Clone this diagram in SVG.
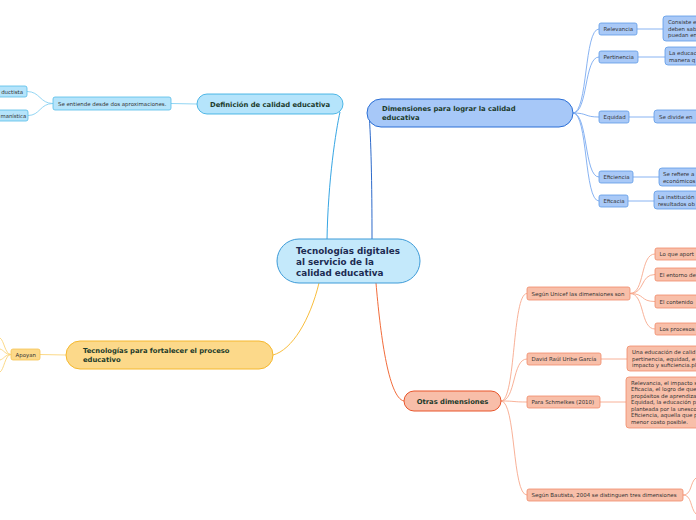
<svg xmlns="http://www.w3.org/2000/svg" width="696" height="520" viewBox="0 0 696 520">
<style>
text{font-family:"DejaVu Sans","Liberation Sans",sans-serif}
.main{font-weight:bold;font-size:6.8px;fill:#1b3b2b}
.sub{font-size:5.45px;fill:#333}
.c{fill:none;stroke-width:0.9}
.bl{fill:#b5e4fb;stroke:#55bde9;stroke-width:0.8}
.db{fill:#a9c9f7;stroke:#5e9be6;stroke-width:0.8}
.or{fill:#f8bfa9;stroke:#f08b6a;stroke-width:0.8}
.ye{fill:#fcd98a;stroke:#f6c453;stroke-width:0.8}
</style>
<rect width="696" height="520" fill="#fff"/>
<g id="connectors">
<path class="c" d="M327,240 C328,180 336,130 340,112" stroke="#1f9be0" stroke-width="1.2"/>
<path class="c" d="M372,240 C372,180 371,140 369,113" stroke="#1559c4" stroke-width="1.2"/>
<path class="c" d="M319,283 C310,320 292,350 273,355" stroke="#f7b526" stroke-width="1.2"/>
<path class="c" d="M376,283 C380,330 388,398 404,401" stroke="#ef5a24" stroke-width="1.2"/>
<g stroke="#86d0f2">
<path class="c" d="M171,103.5 L197,104"/>
<path class="c" d="M53,103.5 C40,103.5 40,91.5 27,91.5"/>
<path class="c" d="M53,103.5 C40,103.5 40,115.5 28,115.5"/>
</g>
<g stroke="#7aaaf0">
<path class="c" d="M573,113 C588,113 584,29 599,29"/>
<path class="c" d="M573,113 C588,113 584,57 599,57"/>
<path class="c" d="M573,113 C588,113 584,117 599,117"/>
<path class="c" d="M573,113 C588,113 584,177 599,177"/>
<path class="c" d="M573,113 C588,113 584,201 599,201"/>
<path class="c" d="M637,29 L663,29"/>
<path class="c" d="M638,57 L665,57"/>
<path class="c" d="M629,117 L654,117"/>
<path class="c" d="M633,177 L659,177"/>
<path class="c" d="M628,201 L654,201"/>
</g>
<g stroke="#f7a88c">
<path class="c" d="M501,401 C516,401 512,293.5 527,293.5"/>
<path class="c" d="M501,401 C516,401 512,359 527,359"/>
<path class="c" d="M501,401 C516,401 512,402 527,402"/>
<path class="c" d="M501,401 C516,401 512,495 527,495"/>
<path class="c" d="M630,293.5 C645,293.5 640,254 655,254"/>
<path class="c" d="M630,293.5 C645,293.5 640,274.5 655,274.5"/>
<path class="c" d="M630,293.5 C645,293.5 640,301.5 655,301.5"/>
<path class="c" d="M630,293.5 C645,293.5 640,329 655,329"/>
<path class="c" d="M601,359 L627,359"/>
<path class="c" d="M600,402 L626,402"/>
<path class="c" d="M683,495 C692,495 690,482 696,478"/>
<path class="c" d="M683,495 C692,495 690,508 696,514"/>
</g>
<g stroke="#fbd57a">
<path class="c" d="M40,354.5 L66,355"/>
<path class="c" d="M11,354.5 C5,354.5 4,340 0,338"/>
<path class="c" d="M11,354.5 C5,354.5 4,350 0,349"/>
<path class="c" d="M11,354.5 C5,354.5 4,359 0,360"/>
<path class="c" d="M11,354.5 C5,354.5 4,370 0,372"/>
</g>
</g>
<g id="central">
<rect x="277" y="239" width="143" height="44" rx="22" fill="#c4e9fb" stroke="#3d9bd8" stroke-width="1"/>
<text x="296" y="254" font-size="8.8" font-weight="bold" fill="#1c2b52">Tecnologías digitales</text>
<text x="296" y="265" font-size="8.8" font-weight="bold" fill="#1c2b52">al servicio de la</text>
<text x="296" y="276" font-size="8.8" font-weight="bold" fill="#1c2b52">calidad educativa</text>
</g>
<g id="definicion">
<rect class="bl" x="197" y="94" width="146" height="20" rx="10" style="stroke:#2aa7e0"/>
<text class="main" x="270" y="106.5" text-anchor="middle">Definición de calidad educativa</text>
</g>
<g id="se-entiende">
<rect class="bl" x="53" y="97" width="118" height="13" rx="2"/>
<text class="sub" x="58" y="105.5">Se entiende desde dos aproximaciones.</text>
</g>
<g id="ductista">
<rect class="bl" x="-20" y="86" width="47" height="11" rx="2"/>
<text class="sub" x="23" y="93.5" text-anchor="end">ductista</text>
</g>
<g id="manistica">
<rect class="bl" x="-20" y="110" width="48" height="11" rx="2"/>
<text class="sub" x="0.5" y="117.5" style="font-size:5.3px">manística</text>
</g>
<g id="dimensiones">
<rect x="367" y="99" width="206" height="28" rx="14" fill="#a7c8f8" stroke="#2b6fd6" stroke-width="1"/>
<text class="main" x="382" y="111">Dimensiones para lograr la calidad</text>
<text class="main" x="382" y="120">educativa</text>
</g>
<g id="relevancia"><rect class="db" x="599" y="23" width="38" height="12" rx="2"/><text class="sub" x="603.5" y="31">Relevancia</text></g>
<g id="pertinencia"><rect class="db" x="599" y="51" width="39" height="12" rx="2"/><text class="sub" x="603.5" y="59">Pertinencia</text></g>
<g id="equidad"><rect class="db" x="599" y="111" width="30" height="12" rx="2"/><text class="sub" x="603.5" y="119">Equidad</text></g>
<g id="eficiencia"><rect class="db" x="599" y="171" width="34" height="12" rx="2"/><text class="sub" x="603.5" y="179">Eficiencia</text></g>
<g id="eficacia"><rect class="db" x="599" y="195" width="29" height="12" rx="2"/><text class="sub" x="603.5" y="203">Eficacia</text></g>
<g id="consiste"><rect class="db" x="663" y="16" width="60" height="25" rx="3"/>
<text class="sub" x="668" y="24">Consiste e</text><text class="sub" x="668" y="30.5">deben sab</text><text class="sub" x="668" y="37">puedan en</text></g>
<g id="la-educac"><rect class="db" x="665" y="47" width="60" height="18" rx="3"/>
<text class="sub" x="669" y="55">La educac</text><text class="sub" x="669" y="61.5">manera q</text></g>
<g id="se-divide"><rect class="db" x="654" y="110" width="60" height="13" rx="3"/>
<text class="sub" x="659" y="118.5">Se divide en</text></g>
<g id="se-refiere"><rect class="db" x="659" y="168" width="60" height="18" rx="3"/>
<text class="sub" x="663" y="176">Se refiere a</text><text class="sub" x="663" y="182.5">económicos</text></g>
<g id="la-institucion"><rect class="db" x="654" y="191" width="60" height="18" rx="3"/>
<text class="sub" x="658" y="199">La institución</text><text class="sub" x="658" y="205.5">resultados ob</text></g>
<g id="otras">
<rect x="404" y="391" width="97" height="20" rx="10" fill="#f8bea9" stroke="#e8552b" stroke-width="1"/>
<text class="main" x="452.5" y="403.5" text-anchor="middle">Otras dimensiones</text>
</g>
<g id="unicef"><rect class="or" x="527" y="287" width="103" height="13" rx="2"/><text class="sub" x="531.5" y="295.5">Según Unicef las dimensiones son</text></g>
<g id="david"><rect class="or" x="527" y="353" width="74" height="12" rx="2"/><text class="sub" x="531.5" y="361">David Raúl Uribe García</text></g>
<g id="schmelkes"><rect class="or" x="527" y="396" width="73" height="12" rx="2"/><text class="sub" x="531.5" y="404">Para Schmelkes (2010)</text></g>
<g id="bautista"><rect class="or" x="527" y="489" width="156" height="12" rx="2"/><text class="sub" x="531.5" y="497">Según Bautista, 2004 se distinguen tres dimensiones</text></g>
<g id="lo-que"><rect class="or" x="655" y="248" width="60" height="12" rx="2"/><text class="sub" x="659.5" y="256">Lo que aport</text></g>
<g id="entorno"><rect class="or" x="655" y="268" width="60" height="13" rx="2"/><text class="sub" x="659.5" y="276.5">El entorno de</text></g>
<g id="contenido"><rect class="or" x="655" y="295" width="60" height="13" rx="2"/><text class="sub" x="659.5" y="303.5">El contenido</text></g>
<g id="procesos"><rect class="or" x="655" y="323" width="60" height="12" rx="2"/><text class="sub" x="659.5" y="331">Los procesos</text></g>
<g id="una-educacion"><rect class="or" x="627" y="346" width="80" height="25" rx="3"/>
<text class="sub" x="632" y="354">Una educación de calid</text><text class="sub" x="632" y="360.5">pertinencia, equidad, e</text><text class="sub" x="632" y="367">impacto y suficiencia.pl</text></g>
<g id="relevancia-impacto"><rect class="or" x="626" y="377" width="80" height="51" rx="3"/>
<text class="sub" x="631" y="384.5">Relevancia, el impacto s</text>
<text class="sub" x="631" y="391">Eficacia, el logro de que</text>
<text class="sub" x="631" y="397.5">propósitos de aprendiza</text>
<text class="sub" x="631" y="404">Equidad, la educación p</text>
<text class="sub" x="631" y="410.5">planteada por la unesco</text>
<text class="sub" x="631" y="417">Eficiencia, aquella que p</text>
<text class="sub" x="631" y="423.5">menor costo posible.</text></g>
<g id="tecnologias">
<rect x="66" y="341" width="207" height="28" rx="14" fill="#fcd98a" stroke="#f5b82e" stroke-width="1"/>
<text class="main" x="83" y="353">Tecnologías para fortalecer el proceso</text>
<text class="main" x="83" y="362">educativo</text>
</g>
<g id="apoyan"><rect class="ye" x="11" y="349" width="29" height="11" rx="2"/><text class="sub" x="15.5" y="356.5">Apoyan</text></g>
</svg>
